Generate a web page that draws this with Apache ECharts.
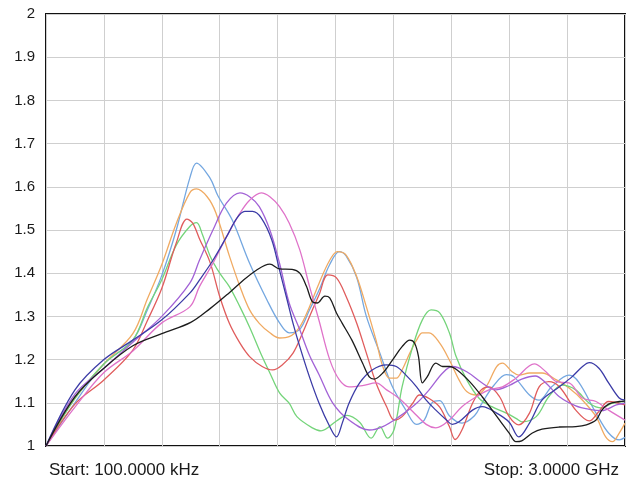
<!DOCTYPE html>
<html>
<head>
<meta charset="utf-8">
<script src="https://cdn.jsdelivr.net/npm/echarts@6/dist/echarts.min.js"></script>
<style>
html,body{margin:0;padding:0;background:#fff;}
#chart{width:637px;height:485px;}
</style>
</head>
<body>
<div id="chart"></div>
<script>
// x: frequency in MHz (sweep 100 kHz .. 3 GHz), y: VSWR
const startLabel = 'Start: 100.0000 kHz';
const stopLabel = 'Stop: 3.0000 GHz';
const yTicks = [1, 1.1, 1.2, 1.3, 1.4, 1.5, 1.6, 1.7, 1.8, 1.9, 2];

const traceBlue = [[0,1.0],[150,1.10],[300,1.19],[450,1.245],[525,1.315],[600,1.395],[675,1.50],[745,1.62],[780,1.655],[850,1.62],[890,1.58],[965,1.523],[1055,1.423],[1145,1.338],[1210,1.285],[1260,1.262],[1315,1.27],[1365,1.315],[1415,1.361],[1470,1.42],[1520,1.45],[1555,1.44],[1610,1.39],[1660,1.30],[1730,1.215],[1795,1.137],[1865,1.083],[1920,1.05],[1960,1.06],[2000,1.10],[2040,1.105],[2090,1.07],[2155,1.053],[2220,1.07],[2260,1.10],[2320,1.14],[2385,1.165],[2425,1.16],[2505,1.118],[2555,1.106],[2620,1.137],[2710,1.164],[2760,1.148],[2850,1.076],[2915,1.03],[2970,1.014],[3000,1.02]];
const traceOrange = [[0,1.0],[150,1.11],[300,1.19],[450,1.26],[525,1.34],[600,1.42],[675,1.515],[745,1.586],[780,1.595],[835,1.577],[880,1.54],[950,1.44],[1005,1.369],[1055,1.315],[1105,1.284],[1160,1.262],[1210,1.25],[1260,1.253],[1315,1.276],[1365,1.322],[1415,1.377],[1470,1.43],[1510,1.45],[1555,1.442],[1610,1.392],[1660,1.322],[1710,1.245],[1745,1.184],[1780,1.157],[1815,1.157],[1845,1.176],[1885,1.215],[1920,1.245],[1950,1.262],[1985,1.262],[2040,1.238],[2090,1.199],[2140,1.153],[2180,1.126],[2230,1.118],[2280,1.137],[2335,1.184],[2365,1.192],[2415,1.172],[2450,1.164],[2505,1.169],[2570,1.169],[2645,1.153],[2710,1.134],[2780,1.106],[2850,1.068],[2900,1.021],[2935,1.01],[2970,1.03],[3000,1.053]];
const traceGreen = [[0,1.0],[150,1.11],[300,1.19],[450,1.245],[525,1.32],[600,1.385],[675,1.465],[745,1.508],[780,1.517],[810,1.49],[850,1.44],[900,1.40],[950,1.369],[1005,1.322],[1055,1.275],[1120,1.207],[1160,1.169],[1210,1.123],[1260,1.099],[1300,1.068],[1380,1.042],[1425,1.035],[1505,1.058],[1560,1.071],[1625,1.055],[1685,1.018],[1730,1.045],[1770,1.018],[1805,1.04],[1845,1.137],[1900,1.23],[1950,1.292],[1995,1.315],[2040,1.308],[2090,1.262],[2125,1.207],[2180,1.153],[2245,1.11],[2310,1.091],[2385,1.076],[2435,1.064],[2465,1.056],[2540,1.068],[2605,1.114],[2675,1.141],[2745,1.13],[2815,1.099],[2880,1.088],[2935,1.099],[3000,1.103]];
const traceRed = [[0,1.0],[150,1.097],[300,1.153],[450,1.222],[525,1.29],[600,1.365],[675,1.47],[730,1.525],[760,1.516],[795,1.48],[850,1.425],[900,1.346],[950,1.284],[1005,1.238],[1055,1.207],[1120,1.184],[1175,1.176],[1225,1.188],[1280,1.215],[1330,1.262],[1380,1.315],[1415,1.35],[1460,1.396],[1505,1.389],[1555,1.346],[1610,1.284],[1660,1.215],[1710,1.146],[1765,1.091],[1805,1.06],[1845,1.068],[1900,1.099],[1935,1.118],[1985,1.11],[2040,1.09],[2090,1.045],[2120,1.015],[2155,1.037],[2210,1.099],[2255,1.13],[2295,1.137],[2350,1.114],[2400,1.068],[2450,1.049],[2505,1.076],[2555,1.137],[2605,1.149],[2660,1.137],[2745,1.083],[2815,1.058],[2865,1.08],[2915,1.103],[3000,1.095]];
const tracePurple = [[0,1.0],[150,1.12],[300,1.18],[450,1.24],[600,1.30],[745,1.377],[795,1.43],[865,1.5],[935,1.562],[1005,1.586],[1055,1.577],[1105,1.554],[1160,1.5],[1210,1.423],[1260,1.331],[1315,1.269],[1365,1.21],[1415,1.165],[1485,1.10],[1570,1.06],[1675,1.037],[1745,1.045],[1830,1.068],[1920,1.099],[1985,1.13],[2055,1.169],[2105,1.184],[2180,1.172],[2260,1.146],[2330,1.13],[2400,1.14],[2465,1.155],[2535,1.162],[2590,1.146],[2660,1.114],[2745,1.093],[2815,1.085],[2880,1.082],[2955,1.095],[3000,1.099]];
const tracePink = [[0,1.0],[150,1.09],[300,1.17],[450,1.22],[600,1.285],[745,1.322],[795,1.369],[865,1.423],[935,1.484],[1005,1.539],[1055,1.569],[1115,1.586],[1160,1.577],[1210,1.554],[1260,1.516],[1315,1.454],[1365,1.37],[1415,1.29],[1470,1.20],[1520,1.153],[1570,1.137],[1640,1.14],[1710,1.146],[1765,1.13],[1830,1.11],[1900,1.08],[1970,1.05],[2020,1.042],[2090,1.06],[2155,1.091],[2230,1.114],[2295,1.13],[2365,1.137],[2435,1.157],[2530,1.19],[2590,1.172],[2645,1.149],[2710,1.146],[2780,1.111],[2850,1.103],[2915,1.083],[3000,1.06]];
const traceNavy = [[0,1.0],[150,1.13],[300,1.20],[450,1.245],[600,1.292],[745,1.354],[795,1.384],[865,1.43],[935,1.484],[990,1.528],[1030,1.543],[1070,1.543],[1115,1.528],[1170,1.477],[1210,1.407],[1245,1.346],[1280,1.284],[1315,1.23],[1365,1.16],[1415,1.099],[1470,1.045],[1505,1.021],[1535,1.053],[1570,1.099],[1625,1.146],[1690,1.176],[1765,1.188],[1815,1.184],[1865,1.164],[1920,1.137],[1970,1.106],[2020,1.083],[2075,1.06],[2105,1.05],[2140,1.056],[2210,1.083],[2260,1.091],[2335,1.076],[2400,1.055],[2450,1.021],[2505,1.053],[2570,1.106],[2660,1.137],[2725,1.16],[2780,1.184],[2815,1.193],[2865,1.18],[2915,1.146],[2970,1.111],[3000,1.106]];
const traceBlack = [[0,1.0],[150,1.114],[300,1.18],[450,1.232],[600,1.26],[750,1.286],[850,1.318],[950,1.355],[1005,1.377],[1090,1.407],[1160,1.421],[1210,1.41],[1275,1.409],[1315,1.40],[1350,1.369],[1380,1.334],[1405,1.331],[1445,1.347],[1470,1.343],[1505,1.308],[1535,1.284],[1585,1.245],[1640,1.192],[1675,1.16],[1700,1.155],[1745,1.169],[1795,1.199],[1845,1.23],[1885,1.245],[1910,1.238],[1930,1.207],[1950,1.146],[1975,1.16],[2020,1.192],[2055,1.184],[2090,1.184],[2130,1.176],[2195,1.149],[2260,1.114],[2350,1.06],[2400,1.03],[2435,1.01],[2465,1.012],[2520,1.03],[2570,1.039],[2660,1.044],[2745,1.045],[2800,1.049],[2850,1.06],[2880,1.083],[2915,1.097],[2970,1.103],[3000,1.104]];

const traces = [
  {data: traceBlue, color: '#74a7e0'},
  {data: traceOrange, color: '#f0aa62'},
  {data: traceGreen, color: '#74d47a'},
  {data: traceRed, color: '#e05c5c'},
  {data: tracePurple, color: '#a262d6'},
  {data: tracePink, color: '#df72c9'},
  {data: traceNavy, color: '#3b3ba6'},
  {data: traceBlack, color: '#1c1c1c'}
];

const chart = echarts.init(document.getElementById('chart'), null, {renderer: 'canvas'});
chart.setOption({
  backgroundColor: '#ffffff',
  animation: false,
  title: [
    {text: startLabel, left: 44, top: 457, textStyle: {fontFamily: 'Liberation Sans, Arial, sans-serif', fontSize: 17, fontWeight: 'normal', color: '#1a1a1a'}},
    {text: stopLabel, right: 13, top: 457, textStyle: {fontFamily: 'Liberation Sans, Arial, sans-serif', fontSize: 17, fontWeight: 'normal', color: '#1a1a1a'}}
  ],
  grid: {left: 46, right: 12, top: 14, bottom: 39, show: true, borderColor: '#111', borderWidth: 2, backgroundColor: 'transparent'},
  xAxis: {
    type: 'value', min: 0, max: 3000, interval: 300,
    axisLabel: {show: false}, axisTick: {show: false}, axisLine: {show: false},
    splitLine: {show: true, lineStyle: {color: '#cfcfcf', width: 1}}
  },
  yAxis: {
    type: 'value', min: yTicks[0], max: yTicks[yTicks.length - 1], interval: 0.1,
    axisTick: {show: false}, axisLine: {show: false},
    axisLabel: {
      margin: 11, color: '#1a1a1a', fontSize: 15, fontFamily: 'Liberation Sans, Arial, sans-serif',
      formatter: function (v) { return String(parseFloat(v.toFixed(1))); }
    },
    splitLine: {show: true, lineStyle: {color: '#cfcfcf', width: 1}}
  },
  series: traces.map(t => ({
    type: 'line', data: t.data, showSymbol: false, smooth: 0.35,
    lineStyle: {color: t.color, width: 1.3}, itemStyle: {color: t.color}
  }))
});
</script>
</body>
</html>
